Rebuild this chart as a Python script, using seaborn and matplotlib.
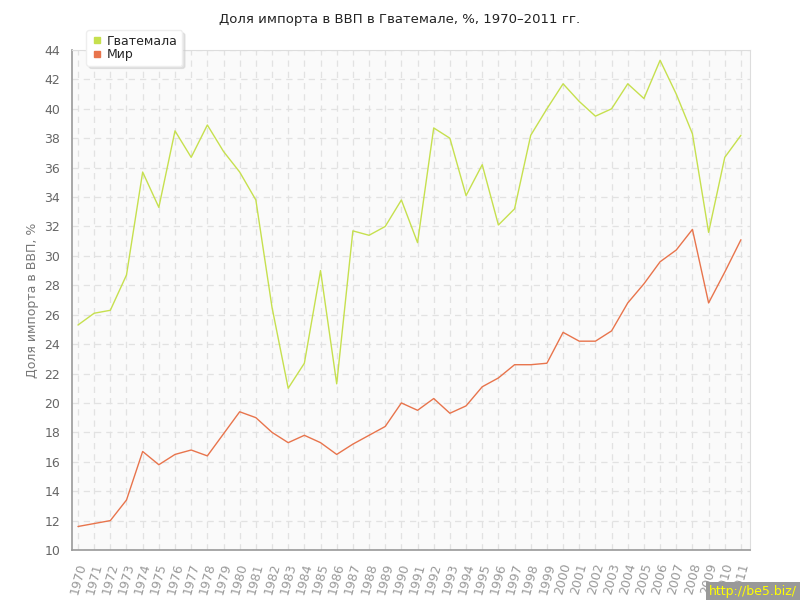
import pandas as pd
import numpy as np
import matplotlib
matplotlib.use('Agg')
import matplotlib.pyplot as plt
import seaborn as sns
from matplotlib.lines import Line2D

years = list(range(1970, 2012))
guatemala = [25.3, 26.1, 26.3, 28.7, 35.7, 33.3, 38.5, 36.7, 38.9, 37.1,
             35.7, 33.8, 26.5, 21.0, 22.7, 29.0, 21.3, 31.7, 31.4, 32.0,
             33.8, 30.9, 38.7, 38.0, 34.1, 36.2, 32.1, 33.2, 38.2, 40.0,
             41.7, 40.5, 39.5, 40.0, 41.7, 40.7, 43.3, 41.0, 38.3, 31.6,
             36.7, 38.2]
world = [11.6, 11.8, 12.0, 13.4, 16.7, 15.8, 16.5, 16.8, 16.4, 17.9,
         19.4, 19.0, 18.0, 17.3, 17.8, 17.3, 16.5, 17.2, 17.8, 18.4,
         20.0, 19.5, 20.3, 19.3, 19.8, 21.1, 21.7, 22.6, 22.6, 22.7,
         24.8, 24.2, 24.2, 24.9, 26.8, 28.1, 29.6, 30.4, 31.8, 26.8,
         28.9, 31.1]
series_names = ['Гватемала', 'Мир']
colors = ['#c6e04e', '#e8744c']

df = pd.DataFrame({'year': years * 2,
                   'value': guatemala + world,
                   'series': [series_names[0]] * len(years) + [series_names[1]] * len(years)})

sns.set_style('white')
plt.rcParams['font.family'] = ['DejaVu Sans']

fig = plt.figure(figsize=(8, 6), dpi=100)
ax = fig.add_axes([0.09, 0.0833, 0.8475, 0.8334])
ax.set_facecolor('#fafafa')

sns.lineplot(data=df, x='year', y='value', hue='series', palette=colors,
             linewidth=1, ax=ax, legend=False)

ax.set_xlim(1969.63, 2011.56)
ax.set_ylim(10, 44)
ax.set_xticks(years)
ax.set_xticklabels([str(y) for y in years], rotation=75, fontsize=9, color='#999999')
ax.set_yticks(range(10, 45, 2))
ax.tick_params(axis='y', labelsize=9, colors='#999999', length=5, width=1)
ax.tick_params(axis='x', length=5, width=1, colors='#999999')
for lab in ax.get_yticklabels():
    lab.set_color('#666666')
ax.grid(True, color='#e2e2e2', linestyle=(0, (5, 4)), linewidth=0.9)
ax.set_axisbelow(True)

for s in ['top', 'right']:
    ax.spines[s].set_color('#dddddd')
for s in ['left', 'bottom']:
    ax.spines[s].set_color('#999999')
    ax.spines[s].set_linewidth(1.2)

ax.set_xlabel('')
ax.set_ylabel('Доля импорта в ВВП, %', fontsize=9, color='#777777')

fig.text(0.5, 0.968, 'Доля импорта в ВВП в Гватемале, %, 1970–2011 гг.',
         ha='center', va='center', fontsize=9.5, color='#222222')

handles = [Line2D([0], [0], marker='s', linestyle='', color=c, markersize=5)
           for c in colors]
leg = fig.legend(handles, series_names, loc='upper left', bbox_to_anchor=(0.1, 0.96),
                 fontsize=9, frameon=True, handletextpad=0.3, labelspacing=0.05,
                 borderpad=0.35, handlelength=1.0, fancybox=True,
                 shadow={'color': '#cccccc', 'alpha': 0.5})
leg.get_frame().set_edgecolor('#eeeeee')
leg.get_frame().set_facecolor('white')

fig.text(0.996, 0.004, 'http://be5.biz/', ha='right', va='bottom', fontsize=9,
         color='#ffff00', bbox=dict(facecolor='#999999', edgecolor='none', pad=2))

fig.savefig('out.png', dpi=100)
